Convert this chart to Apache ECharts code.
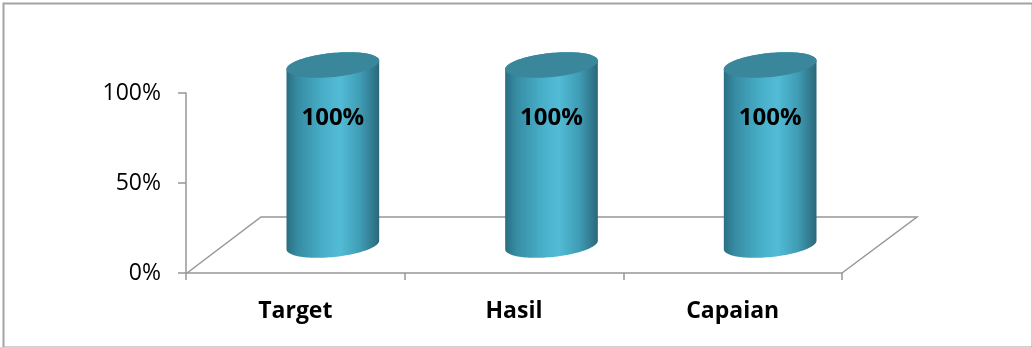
<!DOCTYPE html>
<html>
<head>
<meta charset="utf-8">
<script src="https://cdn.jsdelivr.net/npm/echarts@6.0.0/dist/echarts.min.js"></script>
<style>
  html, body { margin: 0; padding: 0; background: #fff; }
  #chart { width: 1032px; height: 347px; }
</style>
</head>
<body>
<div id="chart"></div>
<script>
// ---- data ----
const categories = ['Target', 'Hasil', 'Capaian'];
const values = [100, 100, 100];          // percent
const yTicks = [0, 50, 100];             // tick values (percent)

// ---- style constants ----
const FONT = '"Open Sans", "Noto Sans", sans-serif';
const AXIS_COLOR = '#979797';
const DEPTH_X = 75, DEPTH_Y = 56;        // 3D floor depth in px
const RX_RATIO = 0.213;                  // cylinder half width / band width
const RY = 12;                           // ellipse semi-minor axis
const TILT = -0.1;                       // ellipse rotation (rad)
const LABEL_DY = 53;                     // data label below cylinder top

function ellipsePt(cx, cy, a, b, t) {
  const c = Math.cos(TILT), s = Math.sin(TILT);
  const ex = a * Math.cos(t), ey = b * Math.sin(t);
  return [cx + ex * c - ey * s, cy + ex * s + ey * c];
}

const chart = echarts.init(document.getElementById('chart'), null, { renderer: 'canvas' });

const option = {
  animation: false,
  backgroundColor: '#ffffff',
  graphic: [{
    type: 'rect', left: 1, top: 1, z: -10,
    shape: { x: 0, y: 0, width: 1029, height: 344 },
    style: { fill: 'none', stroke: '#a3a3a3', lineWidth: 2 }
  }],
  grid: { left: 186, right: 190, top: 93, bottom: 74, outerBoundsMode: 'none', containLabel: false },
  xAxis: {
    type: 'category',
    data: categories,
    boundaryGap: true,
    axisLine: { show: true, lineStyle: { color: AXIS_COLOR, width: 1.5 } },
    axisTick: { show: true, alignWithLabel: false, length: 7, lineStyle: { color: AXIS_COLOR, width: 1.5 } },
    axisLabel: { fontFamily: FONT, fontSize: 23, fontWeight: 'bold', color: '#000', margin: 27 },
    splitLine: { show: false }
  },
  yAxis: {
    type: 'value',
    min: yTicks[0], max: yTicks[yTicks.length - 1], interval: yTicks[1] - yTicks[0],
    axisLine: { show: true, lineStyle: { color: AXIS_COLOR, width: 1.5 } },
    axisTick: { show: true, length: 8, lineStyle: { color: AXIS_COLOR, width: 1.5 } },
    axisLabel: { fontFamily: FONT, fontSize: 23, color: '#000', margin: 25, padding: [8, 0, 0, 0], formatter: v => v + '%' },
    splitLine: { show: false }
  },
  series: [
    {
      // 3D floor outline
      type: 'custom',
      z: 1,
      silent: true,
      data: [[0, 0]],
      renderItem: function (params, api) {
        const cs = params.coordSys;
        const x0 = cs.x, x1 = cs.x + cs.width, yb = cs.y + cs.height;
        return {
          type: 'polyline',
          shape: { points: [[x0 + 1, yb], [x0 + DEPTH_X, yb - DEPTH_Y], [x1 + DEPTH_X, yb - DEPTH_Y], [x1, yb]] },
          style: { stroke: AXIS_COLOR, lineWidth: 1.5, fill: null }
        };
      }
    },
    {
      // cylinders
      type: 'custom',
      z: 5,
      data: values.map((v, i) => [i, v]),
      renderItem: function (params, api) {
        const idx = api.value(0), val = api.value(1);
        const base = api.coord([idx, 0]);
        const top = api.coord([idx, val]);
        const band = api.size([1, 0])[0];
        const a = band * RX_RATIO, b = RY;
        const cx = base[0] + DEPTH_X / 2;
        const cyB = base[1] - DEPTH_Y / 2;
        const cyT = top[1] - DEPTH_Y / 2;
        const N = 60;
        const body = [];
        for (let k = 0; k <= N; k++) body.push(ellipsePt(cx, cyT, a, b, -Math.PI * k / N));
        for (let k = 0; k <= N; k++) body.push(ellipsePt(cx, cyB, a, b, Math.PI - Math.PI * k / N));
        const cap = [];
        for (let k = 0; k < 2 * N; k++) cap.push(ellipsePt(cx, cyT, a, b, 2 * Math.PI * k / (2 * N)));
        return {
          type: 'group',
          children: [
            {
              type: 'polygon',
              shape: { points: body },
              style: {
                fill: new echarts.graphic.LinearGradient(0, 0, 1, 0, [
                  { offset: 0, color: '#2a6e82' },
                  { offset: 0.12, color: '#368ca3' },
                  { offset: 0.4, color: '#48afc9' },
                  { offset: 0.58, color: '#52bbd5' },
                  { offset: 0.8, color: '#3f9cb5' },
                  { offset: 1, color: '#2a6879' }
                ])
              }
            },
            {
              type: 'polygon',
              shape: { points: cap },
              style: { fill: '#3a879c' }
            },
            {
              type: 'text',
              x: cx, y: cyT + LABEL_DY,
              style: {
                text: val + '%',
                fontFamily: FONT, fontSize: 24, fontWeight: 'bold',
                fill: '#000', align: 'center', verticalAlign: 'middle'
              }
            }
          ]
        };
      }
    }
  ]
};
chart.setOption(option);
</script>
</body>
</html>
